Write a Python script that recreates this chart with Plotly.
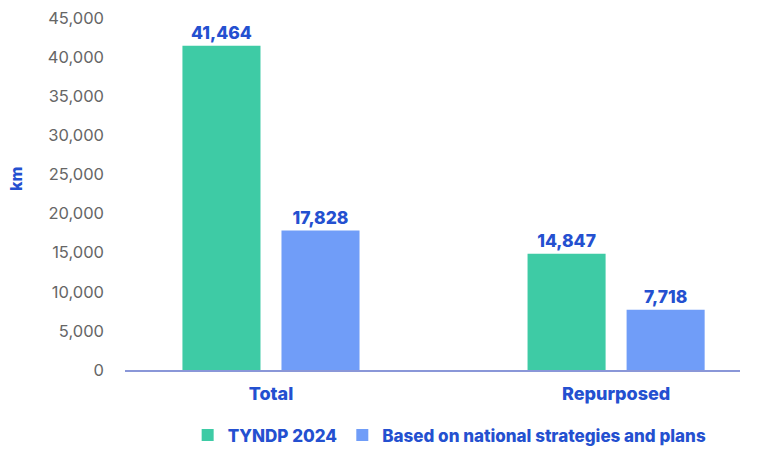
import plotly.graph_objects as go

categories = ["Total", "Repurposed"]
tyndp_2024 = [41464, 14847]
national_plans = [17828, 7718]
series_names = ["TYNDP 2024", "Based on national strategies and plans"]
y_title = "km"

GREEN = "#3ECBA5"
BLUE = "#709DF8"
TEXT_BLUE = "#2450D0"

fig = go.Figure()
for name, vals, col in [(series_names[0], tyndp_2024, GREEN), (series_names[1], national_plans, BLUE)]:
    fig.add_trace(go.Bar(
        x=categories, y=vals, name=name, marker_color=col, marker_line_width=0,
        text=[f"{v:,}" for v in vals], textposition="outside", cliponaxis=False,
        textfont=dict(family="Inter", size=17.5, color=TEXT_BLUE, weight=800),
    ))

fig.add_annotation(text=y_title, textangle=-90, xref="paper", yref="paper",
                   x=-0.177, y=0.543, xanchor="center", yanchor="middle", showarrow=False,
                   font=dict(family="Inter", size=16, color=TEXT_BLUE, weight=800))

fig.update_layout(
    width=757, height=449,
    margin=dict(l=125, r=17, t=18, b=79, autoexpand=False),
    paper_bgcolor="white", plot_bgcolor="white",
    barmode="group", bargap=0.426, bargroupgap=0.212,
    font=dict(family="Inter", color="#666666"),
    showlegend=True,
    legend=dict(orientation="h", x=0.594, xref="container", xanchor="center",
                y=0.03, yref="container", yanchor="middle",
                font=dict(family="Inter", size=17, color=TEXT_BLUE, weight=800),
                itemwidth=30, traceorder="normal"),
    xaxis=dict(range=[-0.423, 1.359], showline=True, linecolor="#8A97D8", linewidth=2,
               ticks="", ticklabelstandoff=6,
               tickfont=dict(family="Inter", size=18, color=TEXT_BLUE, weight=800)),
    yaxis=dict(range=[0, 45000], dtick=5000, tickformat=",", showgrid=False, zeroline=False,
               showline=False, ticklabelstandoff=20,
               tickfont=dict(family="Inter", size=16.5, color="#666666")),
)

fig.write_html("out.html")
